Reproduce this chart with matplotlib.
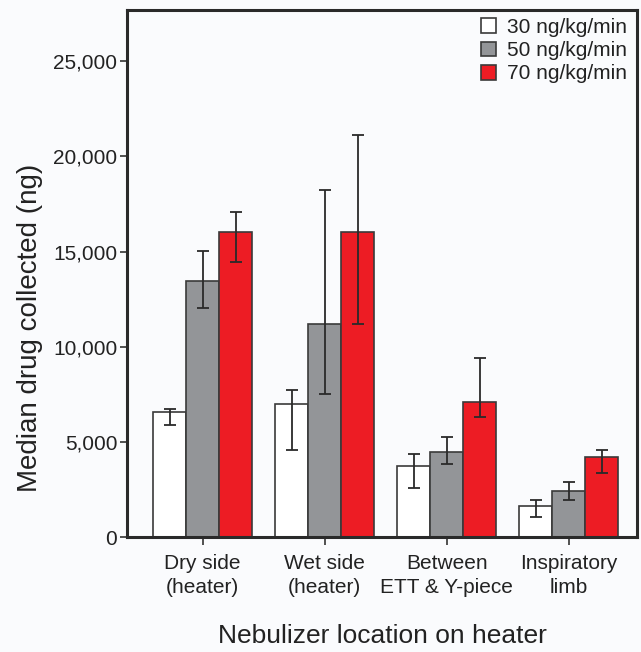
import numpy as np
import matplotlib
matplotlib.use('Agg')
import matplotlib.pyplot as plt
from matplotlib.ticker import FuncFormatter

plt.rcParams['font.family'] = ['Liberation Sans', 'DejaVu Sans']

locations = ['Dry side\n(heater)', 'Wet side\n(heater)', 'Between\nETT & Y-piece', 'Inspiratory\nlimb']
doses = ['30 ng/kg/min', '50 ng/kg/min', '70 ng/kg/min']

# medians and error bar ends (low, high)
med_30 = [6600, 7010, 3720, 1650]
low_30 = [5880, 4570, 2590, 1050]
high_30 = [6730, 7710, 4380, 1940]

med_50 = [13480, 11220, 4470, 2440]
low_50 = [12050, 7540, 3830, 1940]
high_50 = [15040, 18250, 5280, 2900]

med_70 = [16040, 16040, 7090, 4190]
low_70 = [14480, 11220, 6320, 3400]
high_70 = [17090, 21150, 9420, 4570]

colors = ['white', '#939598', '#ed1c24']
edge = '#3a3a3a'
bg = '#fafbfd'

fig = plt.figure(figsize=(6.41, 6.52), dpi=100, facecolor=bg)
ax = fig.add_axes([0.198, 0.176, 0.796, 0.809], facecolor=bg)

x = np.arange(len(locations))
w = 0.27
series = [(med_30, low_30, high_30), (med_50, low_50, high_50), (med_70, low_70, high_70)]
for i, (m, lo, hi) in enumerate(series):
    m = np.array(m); lo = np.array(lo); hi = np.array(hi)
    pos = x + (i - 1) * w
    ax.bar(pos, m, width=w, color=colors[i], edgecolor=edge, linewidth=1.2,
           label=doses[i], zorder=2)
    ax.errorbar(pos, m, yerr=[m - lo, hi - m], fmt='none', ecolor='#2a2a2a',
                elinewidth=1.3, capsize=4, capthick=1.3, zorder=3)

ax.set_xlim(-0.62, 3.56)
ax.set_ylim(0, 27700)
ax.set_yticks([0, 5000, 10000, 15000, 20000, 25000])
ax.yaxis.set_major_formatter(FuncFormatter(lambda v, p: f'{int(v):,}'))
ax.set_xticks(x)
ax.set_xticklabels(locations, fontsize=15, color='#222222', linespacing=1.35)
ax.tick_params(axis='y', labelsize=15, labelcolor='#222222', length=5, width=1.2,
               color='#333333', pad=2)
ax.tick_params(axis='x', length=6, width=1.2, color='#333333', pad=6)
for s in ax.spines.values():
    s.set_linewidth(2.2)
    s.set_color('#2a2a2a')

ax.set_ylabel('Median drug collected (ng)', fontsize=20, color='#222222')
ax.yaxis.set_label_coords(-0.165, 0.397)
ax.set_xlabel('Nebulizer location on heater', fontsize=19, color='#222222', labelpad=19)

leg = ax.legend(loc='upper right', bbox_to_anchor=(0.99, 0.994), frameon=False,
                fontsize=15, handlelength=0.72, handleheight=0.72, handletextpad=0.5,
                labelspacing=0.2, borderaxespad=0.15, borderpad=0.1)
for t in leg.get_texts():
    t.set_color('#222222')

fig.savefig('out.png', dpi=100, facecolor=bg)
